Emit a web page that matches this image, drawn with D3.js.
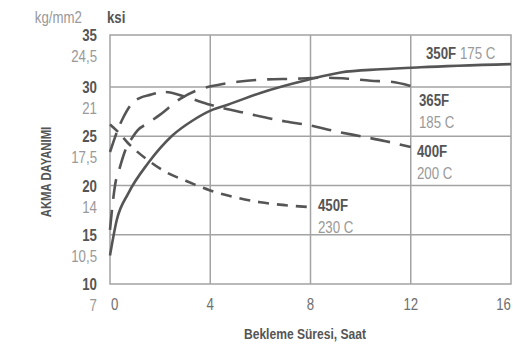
<!DOCTYPE html>
<html>
<head>
<meta charset="utf-8">
<script src="https://cdn.jsdelivr.net/npm/d3@7"></script>
<style>
  body { margin: 0; background: #fff; }
  svg text { font-family: "Liberation Sans", Arial, sans-serif; }
</style>
</head>
<body>
<script>
// Hours on x, ksi on y
var xTicks = [0, 4, 8, 12, 16];
var ksiTicks = [35, 30, 25, 20, 15, 10];
var kgTicks = ["24,5", "21", "17,5", "14", "10,5", "7"];

var s350F = [[0, 12.9], [0.27, 16.5], [0.73, 19.2], [1.53, 22.3], [2.5, 25.1], [3.3, 26.6], [4.1, 27.7], [4.7, 28.2], [6, 29.4], [7.9, 30.7], [9.2, 31.4], [10.8, 31.7], [12.4, 31.9], [16, 32.2]];
var s365F = [[0, 15.5], [0.07, 17.3], [0.2, 20.0], [0.4, 21.9], [0.6, 23.5], [0.9, 24.9], [1.1, 25.6], [1.5, 26.3], [2, 27.2], [2.8, 28.8], [3.4, 29.6], [4.3, 30.2], [5.1, 30.5], [6, 30.7], [7.5, 30.8], [8.5, 30.9], [9.5, 30.8], [10.4, 30.6], [11.2, 30.5], [12, 30.1]];
var s400F = [[0, 23.4], [0.16, 24.6], [0.3, 25.6], [0.5, 26.75], [0.9, 28.4], [1.2, 28.9], [1.6, 29.2], [2.2, 29.5], [3, 29.0], [4, 28.2], [5.5, 27.3], [7, 26.5], [8, 26.1], [9, 25.5], [10, 25.0], [11, 24.5], [12, 23.9]];
var s450F = [[0, 26.2], [0.3, 25.5], [0.8, 24.1], [1.5, 22.6], [2.2, 21.4], [3, 20.5], [4, 19.5], [5, 18.8], [6, 18.3], [7, 18.0], [8, 17.8]];

var dark = "#555", light = "#999", grid = "#a3a3a3";
var squeeze = 0.78; // condensed look

var svg = d3.select("body").append("svg")
  .attr("width", 513)
  .attr("height", 347);

var x = d3.scaleLinear().domain([0, 16]).range([110, 511]);
var y = d3.scaleLinear().domain([10, 30, 35]).range([284, 87, 35]);

// narrow text helper
function label(parent, tx, ty, str, size, bold, color, anchor) {
  return parent.append("text")
    .attr("transform", "translate(" + tx + "," + ty + ") scale(" + squeeze + ",1)")
    .attr("text-anchor", anchor || "start")
    .attr("font-size", size)
    .attr("font-weight", bold ? "bold" : "normal")
    .attr("fill", color)
    .text(str);
}

// grid
svg.append("g").selectAll("line").data([4, 8, 12]).enter().append("line")
  .attr("x1", d => x(d)).attr("x2", d => x(d))
  .attr("y1", y(35)).attr("y2", y(10))
  .attr("stroke", grid).attr("stroke-width", 1.5);
svg.append("g").selectAll("line").data([15, 20, 25, 30]).enter().append("line")
  .attr("x1", x(0)).attr("x2", x(16))
  .attr("y1", d => y(d)).attr("y2", d => y(d))
  .attr("stroke", grid).attr("stroke-width", 1.5);
svg.append("rect")
  .attr("x", x(0)).attr("y", y(35))
  .attr("width", x(16) - x(0)).attr("height", y(10) - y(35))
  .attr("fill", "none").attr("stroke", grid).attr("stroke-width", 1.5);

// y labels
var yl = svg.append("g");
ksiTicks.forEach(function (d, i) {
  label(yl, 97, y(d) + 6, d, 17, true, dark, "end");
  label(yl, 97, y(d) + 27, kgTicks[i], 17, false, light, "end");
});

label(svg, 82, 23, "kg/mm2", 17, false, light, "end");
label(svg, 107, 23, "ksi", 17, true, dark);

svg.append("text")
  .attr("transform", "translate(51,172) rotate(-90) scale(" + squeeze + ",1)")
  .attr("text-anchor", "middle").attr("font-size", 14.5).attr("font-weight", "bold")
  .attr("fill", dark).text("AKMA DAYANIMI");

// x labels
var xl = svg.append("g");
xTicks.forEach(function (d, i) {
  var last = i === xTicks.length - 1;
  label(xl, i === 0 ? x(d) + 1 : x(d), 310, d, 17, false, "#6f6f6f",
    i === 0 ? "start" : last ? "end" : "middle");
});

label(svg, 305, 339, "Bekleme Süresi, Saat", 15.5, true, dark, "middle");

// curves
var line = d3.line()
  .x(d => x(d[0]))
  .y(d => y(d[1]))
  .curve(d3.curveMonotoneX);

var curves = [
  { data: s350F, dash: null },
  { data: s365F, dash: "20,11" },
  { data: s400F, dash: "20,10" },
  { data: s450F, dash: "11,8" }
];
curves.forEach(function (c) {
  svg.append("path")
    .attr("d", line(c.data))
    .attr("fill", "none")
    .attr("stroke", dark)
    .attr("stroke-width", 2.6)
    .attr("stroke-dasharray", c.dash);
});

// series labels
var lbl = svg.append("g");
var t350 = lbl.append("text")
  .attr("transform", "translate(426,59) scale(" + squeeze + ",1)")
  .attr("font-size", 17);
t350.append("tspan").attr("font-weight", "bold").attr("fill", dark).text("350F");
t350.append("tspan").attr("fill", light).text(" 175 C");

function twoLine(tx, ty, a, b) {
  label(lbl, tx, ty, a, 17, true, dark);
  label(lbl, tx, ty + 22, b, 17, false, light);
}
twoLine(419, 106, "365F", "185 C");
twoLine(417, 157, "400F", "200 C");
twoLine(318, 211, "450F", "230 C");
</script>
</body>
</html>
